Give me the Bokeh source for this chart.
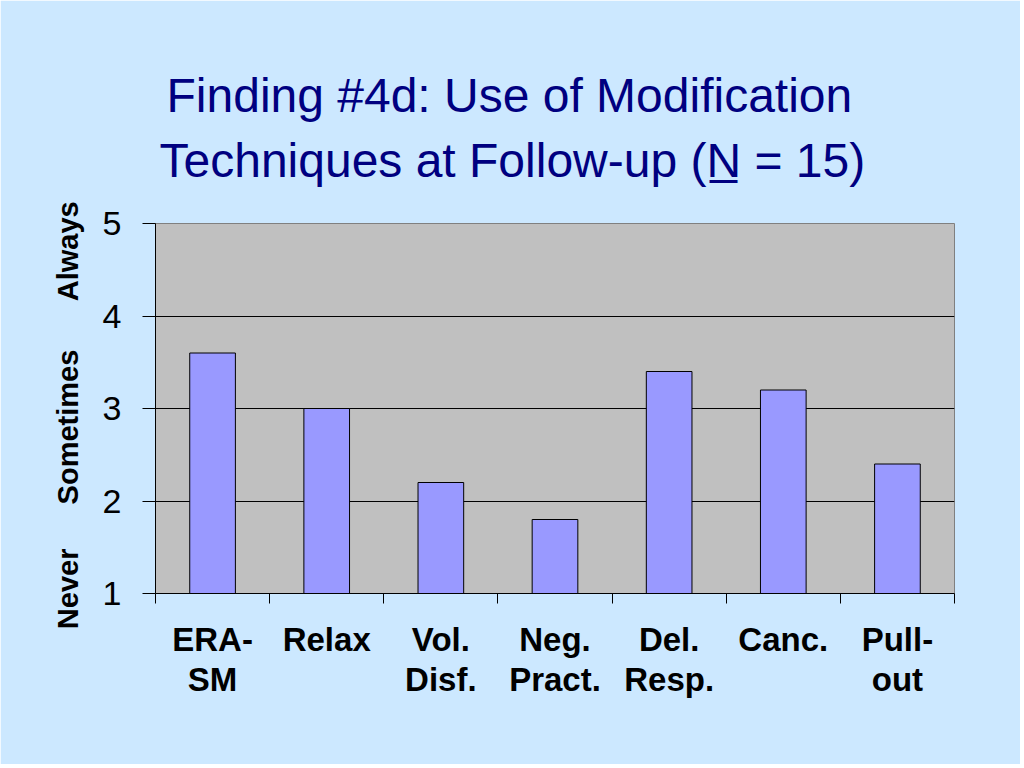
from bokeh.plotting import figure
from bokeh.models import FixedTicker, LinearAxis, Title, Range1d
from bokeh.embed import file_html
from bokeh.resources import INLINE

# ---- data ----
categories = ["ERA-\nSM", "Relax", "Vol.\nDisf.", "Neg.\nPract.", "Del.\nResp.", "Canc.", "Pull-\nout"]
values = [3.6, 3.0, 2.2, 1.8, 3.4, 3.2, 2.4]
y_ticks = [1, 2, 3, 4, 5]
grid_values = [2, 3, 4]
scale_labels = ["Never", "Sometimes", "Always"]
scale_positions = [1.05, 2.8, 4.7]
title_lines = ["Finding #4d: Use of Modification", "Techniques at Follow-up (N\u0332 = 15)"]

BG = "#CCE8FF"
NAVY = "#000080"
FONT = "Liberation Sans"

W, H = 1020, 764
p = figure(width=W, height=H, output_backend="svg", toolbar_location=None, title=None,
           x_range=Range1d(0, len(categories)), y_range=Range1d(y_ticks[0], y_ticks[-1]),
           min_border_left=155, min_border_right=66, min_border_top=223, min_border_bottom=171)
p.border_fill_color = BG
p.background_fill_color = "#C0C0C0"
p.outline_line_color = "#808080"

xs = [i + 0.5 for i in range(len(categories))]
p.vbar(x=xs, top=values, bottom=y_ticks[0], width=0.4,
       fill_color="#9999FF", line_color="black", line_width=1)

# grid
p.xgrid.visible = False
p.ygrid.ticker = FixedTicker(ticks=grid_values)
p.ygrid.grid_line_color = "black"
p.ygrid.grid_line_width = 1

# y axis
p.yaxis.ticker = FixedTicker(ticks=y_ticks)
p.yaxis.major_tick_out = 13
p.yaxis.major_tick_in = 0
p.yaxis.minor_tick_line_color = None
p.yaxis.major_label_text_font_size = "34px"
p.yaxis.major_label_text_font = FONT
p.yaxis.major_label_text_color = "black"
p.yaxis.major_label_standoff = 21
p.yaxis.axis_line_color = "black"
p.yaxis.major_tick_line_color = "black"

# x axis: labels at category centres, minor ticks at category boundaries
p.xaxis.ticker = FixedTicker(ticks=xs, minor_ticks=list(range(len(categories) + 1)))
p.xaxis.major_label_overrides = {x: c for x, c in zip(xs, categories)}
p.xaxis.major_label_text_font = FONT
p.xaxis.major_label_text_font_size = "33px"
p.xaxis.major_label_text_font_style = "bold"
p.xaxis.major_label_text_color = "black"
p.xaxis.major_label_text_line_height = 1.1
p.xaxis.major_tick_line_color = None
p.xaxis.major_tick_out = 0
p.xaxis.major_tick_in = 0
p.xaxis.minor_tick_line_color = "black"
p.xaxis.minor_tick_out = 10
p.xaxis.minor_tick_in = 0
p.xaxis.major_label_standoff = 17
p.xaxis.axis_line_color = "black"

# scale words on the left, as a second (label-only) axis
scale_axis = LinearAxis(ticker=FixedTicker(ticks=scale_positions, minor_ticks=[]),
                        major_label_overrides={v: t for v, t in zip(scale_positions, scale_labels)},
                        major_label_orientation="vertical",
                        major_label_text_font=FONT, major_label_text_font_size="29px",
                        major_label_text_font_style="bold", major_label_text_color="black",
                        major_tick_line_color=None, minor_tick_line_color=None,
                        major_tick_out=0, major_tick_in=0, axis_line_color=None,
                        major_label_standoff=16)
p.add_layout(scale_axis, "left")

# title: second line nearest the frame, first line above it
p.add_layout(Title(text=title_lines[1], align="left", offset=4, standoff=74,
                   text_font=FONT, text_font_size="48px", text_font_style="normal",
                   text_color=NAVY), "above")
p.add_layout(Title(text=title_lines[0], align="left", offset=11, standoff=-54,
                   text_font=FONT, text_font_size="48px", text_font_style="normal",
                   text_color=NAVY), "above")

open("out.html", "w").write(file_html(p, INLINE))
